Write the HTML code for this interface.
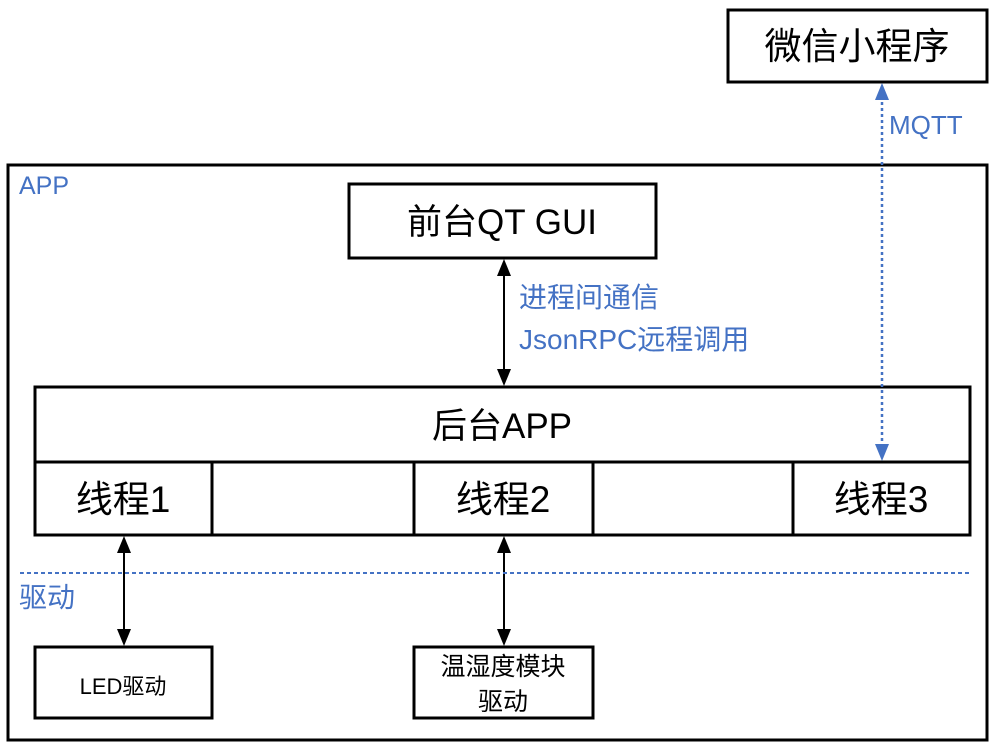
<!DOCTYPE html>
<html><head><meta charset="utf-8"><style>
html,body{margin:0;padding:0;background:#fff;}
svg{display:block;}
text{font-family:"Liberation Sans","Noto Sans CJK SC",sans-serif;}
</style></head><body>
<svg width="995" height="747" viewBox="0 0 995 747" xmlns="http://www.w3.org/2000/svg">
<g fill="none" stroke="#000" stroke-width="3">
<rect x="8" y="165" width="979" height="575"/>
<rect x="728" y="10" width="259" height="72"/>
<rect x="349" y="184" width="307" height="74"/>
<rect x="35" y="387" width="935" height="148"/>
<line x1="35" y1="462" x2="970" y2="462"/>
<line x1="212" y1="462" x2="212" y2="535"/>
<line x1="414" y1="462" x2="414" y2="535"/>
<line x1="593" y1="462" x2="593" y2="535"/>
<line x1="793" y1="462" x2="793" y2="535"/>
<rect x="35" y="647" width="177" height="71"/>
<rect x="414" y="647" width="179" height="71"/>
</g>
<g stroke="#000" stroke-width="2">
<line x1="504" y1="262" x2="504" y2="375"/>
<line x1="124" y1="539" x2="124" y2="635"/>
<line x1="504" y1="539" x2="504" y2="635"/>
</g>
<g fill="#000">
<path d="M504,259 L497,276 L511,276 z"/><path d="M504,386 L497,369 L511,369 z"/>
<path d="M124,536 L117,553 L131,553 z"/><path d="M124,646 L117,629 L131,629 z"/>
<path d="M504,536 L497,553 L511,553 z"/><path d="M504,646 L497,629 L511,629 z"/>
</g>
<line x1="882" y1="96" x2="882" y2="448" stroke="#4472C4" stroke-width="2.5" stroke-dasharray="3,3"/>
<path d="M882,83 L875,100 L889,100 z" fill="#4472C4"/>
<path d="M882,461 L875,444 L889,444 z" fill="#4472C4"/>
<line x1="20" y1="573" x2="972" y2="573" stroke="#4472C4" stroke-width="2" stroke-dasharray="4,3"/>
<g font-size="37" fill="#000" text-anchor="middle">
<text x="857" y="59">微信小程序</text>
<text x="123" y="512">线程1</text>
<text x="503" y="512">线程2</text>
<text x="881" y="512">线程3</text>
</g>
<g font-size="35" fill="#000" text-anchor="middle">
<text x="502" y="234">前台QT GUI</text>
<text x="502" y="438">后台APP</text>
</g>
<text x="123" y="694" font-size="22" fill="#000" text-anchor="middle">LED驱动</text>
<g font-size="25" fill="#000" text-anchor="middle">
<text x="503" y="675">温湿度模块</text>
<text x="503" y="710">驱动</text>
</g>
<g font-size="28" fill="#4472C4">
<text x="519" y="307">进程间通信</text>
<text x="519" y="349">JsonRPC远程调用</text>
<text x="19" y="607">驱动</text>
</g>
<text x="889" y="134" font-size="26" fill="#4472C4">MQTT</text>
<text x="19" y="194" font-size="25" fill="#4472C4">APP</text>
</svg>
</body></html>
